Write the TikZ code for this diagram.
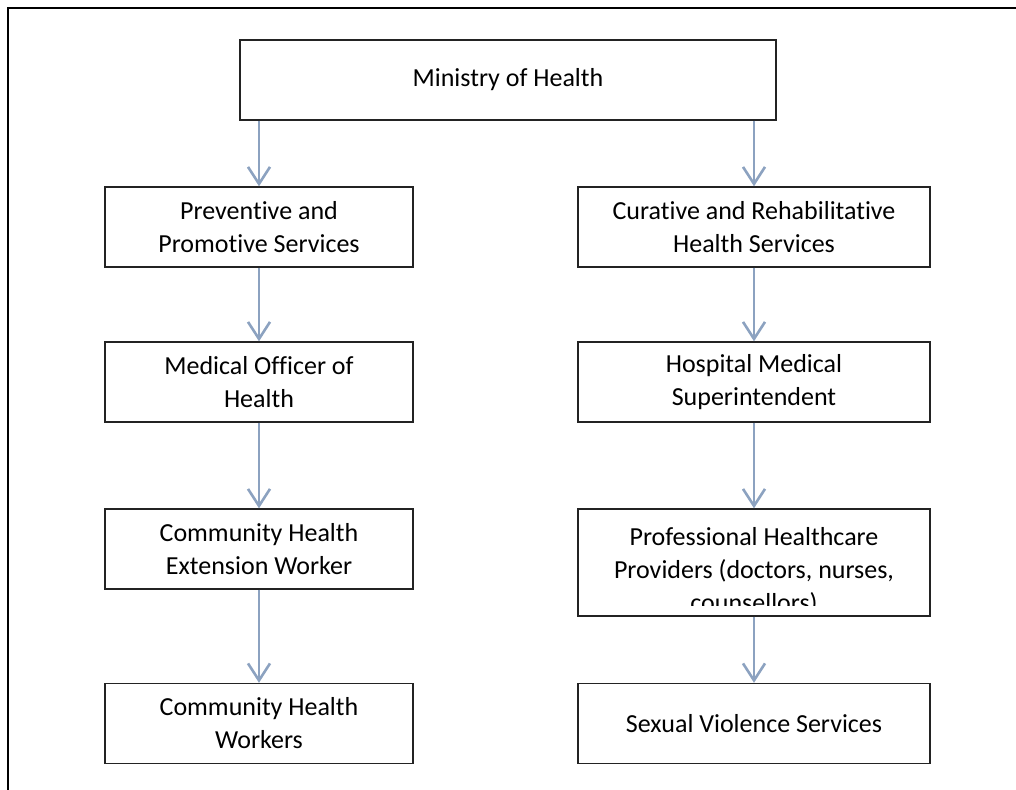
\documentclass[tikz,border=0pt]{standalone}
\usepackage{fontspec}
\setmainfont{Carlito}[Ligatures=NoCommon]
\usetikzlibrary{arrows.meta}
\definecolor{arrowc}{RGB}{140,162,192}
\definecolor{boxc}{RGB}{35,35,35}
\tikzset{
  box/.style={draw=boxc, line width=1.4pt, inner sep=0pt, align=center,
    font=\fontsize{26}{33}\selectfont},
  lbox/.style={box, minimum width=308pt, minimum height=80pt},
  rbox/.style={box, minimum width=352pt, minimum height=80pt},
  txt/.style={inner sep=0pt, align=center, font=\fontsize{26}{33}\selectfont},
  arr/.style={draw=arrowc, line width=2.6pt, -{Straight Barb[length=17pt,width=22pt,line width=2.6pt]}}
}
\begin{document}
\begin{tikzpicture}[x=1pt,y=-1pt]
\clip (0,0) rectangle (1016,789);
\useasboundingbox (0,0) rectangle (1016,789);
\draw[line width=2.8pt, black] (8,8) rectangle (1040,810);

\node[box, minimum width=536pt, minimum height=80pt] (moh) at (508,80) {Ministry of Health};

\node[lbox] (prev) at (259,227) {Preventive and\\Promotive Services};
\node[lbox] (mooh) at (259,382) {Medical Officer of\\Health};
\node[lbox] (chew) at (259,549) {Community Health\\Extension Worker};
\node[lbox] (chw)  at (259,723.5) {Community Health\\Workers};

\node[rbox] (cur)  at (754,227) {Curative and Rehabilitative\\Health Services};
\node[rbox] (hosp) at (754,382) {Hospital Medical\\Superintendent};
\node[rbox, minimum height=107pt] (prof) at (754,562.5) {};
\begin{scope}
\clip (578,509) rectangle (930,605);
\node[txt, anchor=north] (proftext) at (754,527) {Professional Healthcare\\Providers (doctors, nurses,\\counsellors)};
\end{scope}
\node[rbox] (sex)  at (754,723.5) {Sexual Violence Services};

\draw[arr] (moh.south -| prev.north) -- (prev.north);
\draw[arr] (prev.south) -- (mooh.north);
\draw[arr] (mooh.south) -- (chew.north);
\draw[arr] (chew.south) -- (chw.north);

\draw[arr] (moh.south -| cur.north) -- (cur.north);
\draw[arr] (cur.south) -- (hosp.north);
\draw[arr] (hosp.south) -- (prof.north);
\draw[arr] (prof.south) -- (sex.north);
\end{tikzpicture}
\end{document}
